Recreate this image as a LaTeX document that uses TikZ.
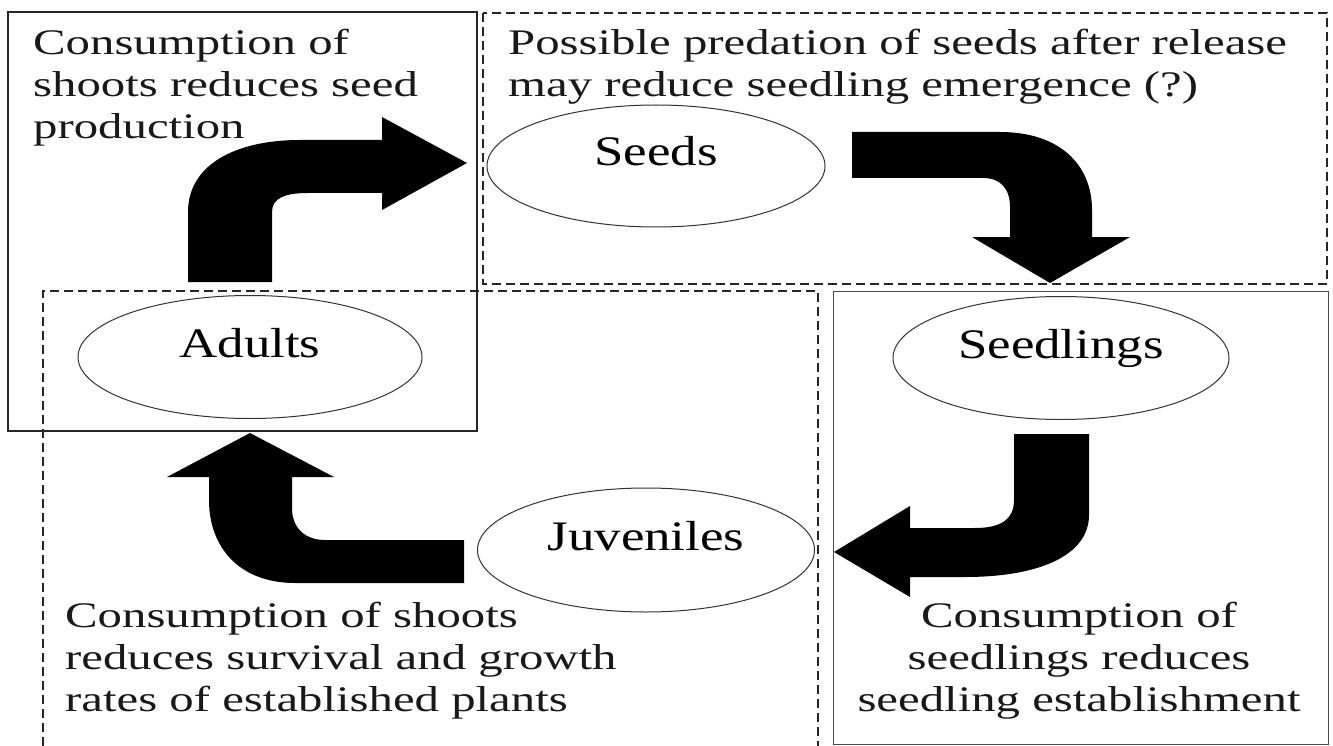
\documentclass[tikz,border=0pt]{standalone}
\usepackage{fontspec}
\setmainfont{Liberation Serif}[FakeStretch=1.355]
\newfontfamily\stagefont{Liberation Serif}[FakeStretch=1.26]
\usetikzlibrary{shapes.geometric}
\begin{document}
\begin{tikzpicture}[x=1pt,y=-1pt,
  solidbox/.style={draw=black!85,line width=1.2pt},
  dashbox/.style={draw=black!85,line width=1.2pt,dash pattern=on 9pt off 5pt},
  stage/.style={ellipse,draw=black!80,line width=1pt,inner sep=0pt,
    font=\stagefont\fontsize{42}{48}\selectfont,text height=12pt,text depth=12pt},
  note/.style={inner sep=0pt,font=\fontsize{36}{42}\selectfont,text=black!90},
  bigarrow/.style={fill=black,draw=none}]
\useasboundingbox (0,0) rectangle (1333,746);

% boxes
\draw[dashbox] (483,13) rectangle (1327,284);
\draw[dashbox] (43,746) -- (43,291) -- (818,291) -- (818,746);
\draw[solidbox] (8,12) rectangle (477,431);
\draw[draw=black!70,line width=1pt] (833,291) rectangle (1328,744);

% stages
\node[stage,minimum width=338pt,minimum height=122pt] (seeds) at (656,166) {Seeds};
\node[stage,minimum width=344pt,minimum height=123pt] (adults) at (250,357) {Adults};
\node[stage,minimum width=336pt,minimum height=123pt] (seedlings) at (1061,358) {Seedlings};
\node[stage,minimum width=337pt,minimum height=124pt] (juveniles) at (646,550) {Juveniles};

% notes
\node[note,anchor=base west] (tlnote) at (33,55)
  {\begin{tabular}[t]{@{}l@{}}Consumption of\\ shoots reduces seed\\ production\end{tabular}};
\node[note,anchor=base west] (trnote) at (508,55)
  {\begin{tabular}[t]{@{}l@{}}Possible predation of seeds after release\\ may reduce seedling emergence (?)\end{tabular}};
\node[note,anchor=base west] (blnote) at (65,627)
  {\begin{tabular}[t]{@{}l@{}}Consumption of shoots\\ reduces survival and growth\\ rates of established plants\end{tabular}};
\node[note,anchor=base] (brnote) at (1079,627)
  {\begin{tabular}[t]{@{}c@{}}Consumption of\\ seedlings reduces\\ seedling establishment\end{tabular}};

% block arrows
\fill[bigarrow] (188,282) -- (188,212) .. controls (188,165) and (235,140) .. (300,140)
  -- (382,140) -- (382,117) -- (467,163) -- (382,210) -- (382,193) -- (308,193)
  .. controls (285,193) and (272,198) .. (272,212) -- (272,282) -- cycle;
\fill[bigarrow] (852,132) -- (1000,132) .. controls (1060,132) and (1092,165) .. (1092,210)
  -- (1092,237) -- (1130,237) -- (1050,283) -- (972,237) -- (1010,237) -- (1010,207)
  .. controls (1010,188) and (1000,178) .. (983,178) -- (852,178) -- cycle;
\fill[bigarrow] (1014,434) -- (1089,434) -- (1089,515) .. controls (1089,555) and (1040,577) .. (965,577)
  -- (910,577) -- (910,597) -- (834,552) -- (910,506) -- (910,528) -- (975,528)
  .. controls (1000,528) and (1014,520) .. (1014,500) -- cycle;
\fill[bigarrow] (464,540) -- (464,583) -- (295,583) .. controls (240,583) and (209,548) .. (209,500)
  -- (209,477) -- (167,477) -- (250,433) -- (334,477) -- (292,477) -- (292,508)
  .. controls (292,528) and (305,540) .. (325,540) -- cycle;
\end{tikzpicture}
\end{document}
